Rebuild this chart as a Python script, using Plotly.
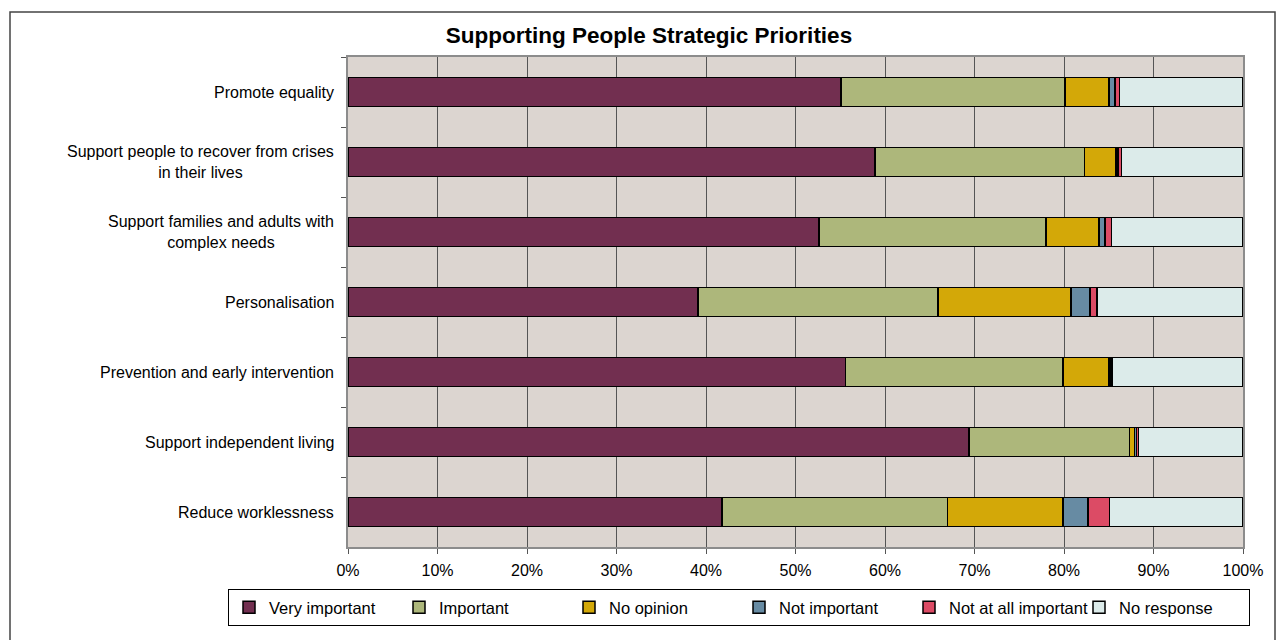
import plotly.graph_objects as go

categories = [
    "Promote equality",
    "Support people to recover from crises<br>in their lives",
    "Support families and adults with<br>complex needs",
    "Personalisation",
    "Prevention and early intervention",
    "Support independent living",
    "Reduce worklessness",
]
series_names = ["Very important", "Important", "No opinion", "Not important",
                "Not at all important", "No response"]
very_important = [55.1, 58.9, 52.6, 39.1, 55.6, 69.4, 41.8]
important = [25.0, 23.4, 25.4, 26.8, 24.3, 17.9, 25.2]
no_opinion = [4.9, 3.5, 5.9, 14.9, 5.05, 0.6, 12.9]
not_important = [0.7, 0.25, 0.7, 2.1, 0.2, 0.2, 2.8]
not_at_all_important = [0.5, 0.4, 0.7, 0.8, 0.2, 0.2, 2.4]
no_response = [13.8, 13.5, 14.7, 16.3, 14.6, 11.7, 14.9]
x_ticks = [0, 10, 20, 30, 40, 50, 60, 70, 80, 90, 100]
x_tick_labels = [f"{t}%" for t in x_ticks]

colors = ["#722F50", "#ADB77B", "#D3A808", "#678BA3", "#DC4B65", "#DCEBEA"]
series_values = [very_important, important, no_opinion, not_important,
                 not_at_all_important, no_response]

FONT = "Liberation Sans, Arial, sans-serif"

fig = go.Figure()
for name, vals, col in zip(series_names, series_values, colors):
    fig.add_trace(go.Bar(
        name=name, y=categories, x=vals, orientation="h",
        marker=dict(color=col, line=dict(color="#000000", width=1.5)),
        width=0.42,
    ))

# category labels as centred multi-line annotations
for cat in categories:
    fig.add_annotation(
        x=-0.0134, xref="paper", y=cat, yref="y", text=cat,
        showarrow=False, xanchor="right", align="center",
        font=dict(family=FONT, size=16, color="#000000"),
    )

# outer chart border
fig.add_shape(type="rect", xref="paper", yref="paper",
              x0=(10 - 348) / 895, x1=(1275 - 348) / 895,
              y0=(547 - 660) / 490, y1=(547 - 12) / 490,
              line=dict(color="#444444", width=1.5), layer="below")

fig.update_layout(
    width=1276, height=640,
    barmode="stack",
    bargap=0.58,
    paper_bgcolor="#FFFFFF",
    plot_bgcolor="#DCD5D0",
    margin=dict(l=348, r=33, t=57, b=93),
    title=dict(text="<b>Supporting People Strategic Priorities</b>",
               x=(649) / 1276, xanchor="center", y=1 - 35 / 640, yanchor="middle",
               font=dict(family=FONT, size=22.5, color="#000000")),
    font=dict(family=FONT, color="#000000"),
    showlegend=True,
    legend=dict(
        orientation="h", x=(228 - 348) / 895, xanchor="left",
        y=(547 - 589) / 490, yanchor="top",
        bordercolor="#000000", borderwidth=1, bgcolor="#FFFFFF",
        font=dict(family=FONT, size=16.5, color="#000000"),
        entrywidth=125, entrywidthmode="pixels",
        traceorder="normal",
    ),
    xaxis=dict(
        range=[0, 100], tickvals=x_ticks, ticktext=x_tick_labels,
        showgrid=True, gridcolor="#555555", gridwidth=1,
        ticks="outside", ticklen=5, tickcolor="#555555",
        showline=True, linecolor="#8C8C8C", linewidth=2, mirror=True,
        tickfont=dict(family=FONT, size=16, color="#000000"),
        ticklabelstandoff=3, zeroline=False,
    ),
    yaxis=dict(
        categoryorder="array", categoryarray=categories, autorange="reversed",
        showticklabels=False, tickson="boundaries",
        ticks="outside", ticklen=5, tickcolor="#555555",
        showgrid=False,
        showline=True, linecolor="#8C8C8C", linewidth=2, mirror=True,
    ),
)

fig.write_html("out.html", config={"displayModeBar": False},
               post_script="document.body.style.margin='0px';")
